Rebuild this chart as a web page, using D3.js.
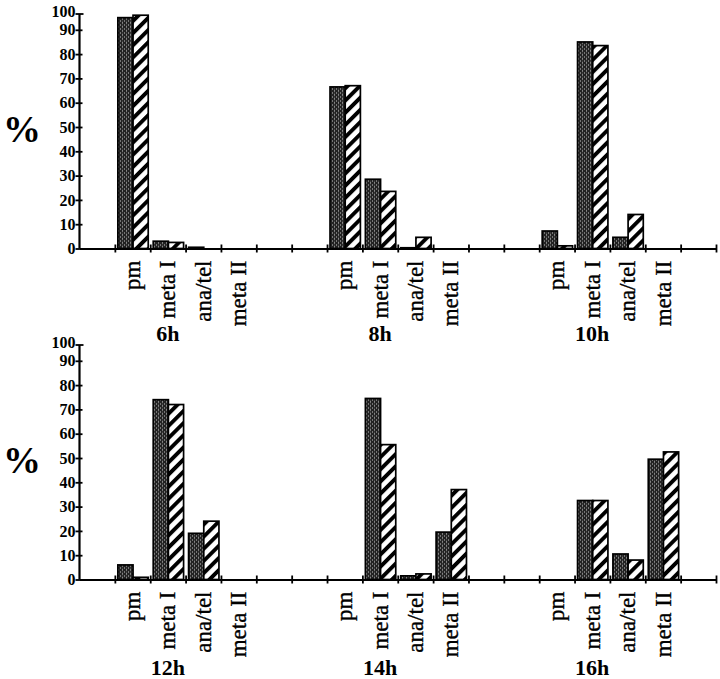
<!DOCTYPE html>
<html>
<head>
<meta charset="utf-8">
<script src="https://cdn.jsdelivr.net/npm/d3@7"></script>
<style>
  body { margin: 0; background: #fff; }
  svg { display: block; }
  text { font-family: "Liberation Serif", "Times New Roman", serif; fill: #000; }
</style>
</head>
<body>
<svg id="chart" width="720" height="679"></svg>
<script>
// time points (one group of bars each) and meiotic stages
const timepoints = ['6h', '8h', '10h', '12h', '14h', '16h'];
const stages = ['pm', 'meta I', 'ana/tel', 'meta II'];

// stippled bars, per time point, in stage order
const stippledValues = [
  [95, 3, 0.5, 0],
  [66.5, 28.5, 0.3, 0],
  [7.2, 85, 4.6, 0],
  [6, 74, 19, 0],
  [0, 74.5, 1.5, 19.5],
  [0, 32.5, 10.5, 49.5]
];
// hatched bars, same order
const hatchedValues = [
  [96, 2.5, 0, 0],
  [67, 23.5, 4.6, 0],
  [1.1, 83.5, 14, 0],
  [0.9, 72, 24, 0],
  [0, 55.5, 2.3, 37],
  [0, 32.5, 8, 52.5]
];

const yTicks = [0, 10, 20, 30, 40, 50, 60, 70, 80, 90];
const yTopLabel = '100';

const svg = d3.select('#chart');

// patterns for the two series
const defs = svg.append('defs');
const stipple = defs.append('pattern')
  .attr('id', 'stipple')
  .attr('patternUnits', 'userSpaceOnUse')
  .attr('width', 4).attr('height', 4);
stipple.append('rect').attr('width', 4).attr('height', 4).attr('fill', '#222');
[[0, 0], [2, 2], [2, 0.5]].forEach(([px, py], i) => {
  stipple.append('rect')
    .attr('x', px).attr('y', py)
    .attr('width', 1).attr('height', 1)
    .attr('fill', i < 2 ? '#c8c8c8' : '#666');
});

const hatch = defs.append('pattern')
  .attr('id', 'hatch')
  .attr('patternUnits', 'userSpaceOnUse')
  .attr('width', 8.6).attr('height', 8.6)
  .attr('patternTransform', 'rotate(45)');
hatch.append('rect').attr('width', 8.6).attr('height', 8.6).attr('fill', '#fff');
hatch.append('rect').attr('width', 3.9).attr('height', 8.6).attr('fill', '#000');

// vertical scale (shared by both rows, relative to each row's baseline)
const y = d3.scaleLinear().domain([0, 100]).range([0, -243]);
const axisTop = y(96.5);

const rowBaselines = [248.5, 579.5];
const rowLabelOffsets = [92, 95.5];
const groupsPerRow = 3;

function drawRow(rowIdx) {
  const rowTimes = timepoints.slice(rowIdx * groupsPerRow, rowIdx * groupsPerRow + groupsPerRow);
  const slotKeys = [];
  rowTimes.forEach(t => {
    ['', ...stages, ''].forEach((s, i) => slotKeys.push(`${t}|${i}`));
  });

  const x = d3.scaleBand().domain(slotKeys).range([79.5, 716]).padding(0);
  const xTick = d3.scaleLinear().domain([0, slotKeys.length]).range([79.5, 716]);
  const inner = d3.scaleBand().domain(['stippled', 'hatched'])
    .range([3, x.bandwidth() - 2]).padding(0);

  const g = svg.append('g').attr('transform', `translate(0, ${rowBaselines[rowIdx]})`);

  // bars
  rowTimes.forEach((t, gi) => {
    const tIdx = rowIdx * groupsPerRow + gi;
    stages.forEach((s, si) => {
      const key = `${t}|${si + 1}`;
      const pair = [
        { series: 'stippled', value: stippledValues[tIdx][si] },
        { series: 'hatched', value: hatchedValues[tIdx][si] }
      ].filter(d => d.value > 0);
      g.selectAll(null)
        .data(pair)
        .join('rect')
        .attr('x', d => x(key) + inner(d.series))
        .attr('width', inner.bandwidth())
        .attr('y', d => y(d.value))
        .attr('height', d => -y(d.value))
        .attr('fill', d => d.series === 'stippled' ? 'url(#stipple)' : 'url(#hatch)')
        .attr('stroke', '#000')
        .attr('stroke-width', 1.7);

      // stage label, rotated
      g.append('text')
        .attr('transform', `translate(${x(key) + x.bandwidth() / 2}, 12) rotate(-90)`)
        .attr('text-anchor', 'end')
        .attr('dy', '0.33em')
        .attr('stroke', '#000')
        .attr('stroke-width', 0.35)
        .style('font-size', '23px')
        .text(s);
    });

    // time label under the meta I slot
    const labelKey = `${t}|2`;
    g.append('text')
      .attr('x', x(labelKey) + x.bandwidth() / 2)
      .attr('y', rowLabelOffsets[rowIdx])
      .attr('text-anchor', 'middle')
      .style('font-size', '22px')
      .style('font-weight', 'bold')
      .text(t);
  });

  // x axis with ticks crossing the line
  const xAxis = g.append('g')
    .call(d3.axisBottom(xTick).tickValues(d3.range(1, slotKeys.length + 1))
      .tickSize(4).tickSizeOuter(0).tickFormat(''));
  xAxis.select('.domain').attr('stroke-width', 2.2);
  xAxis.selectAll('.tick line').attr('y1', -4).attr('stroke-width', 1.8);

  // y axis
  const yAxis = g.append('g')
    .attr('transform', 'translate(79.5, 0)')
    .call(d3.axisLeft(y).tickValues(yTicks).tickSize(4).tickPadding(0).tickSizeOuter(0));
  yAxis.select('.domain').remove();
  yAxis.selectAll('.tick line').attr('x1', 3).attr('stroke-width', 1.8);
  yAxis.selectAll('.tick text')
    .style('font-size', '16px')
    .style('font-weight', 'bold')
    .style('font-family', '"Liberation Serif", serif');
  yAxis.append('line')
    .attr('y1', 0).attr('y2', axisTop)
    .attr('stroke', '#000').attr('stroke-width', 2.2);
  yAxis.append('line')
    .attr('x1', -4).attr('x2', 4)
    .attr('y1', axisTop).attr('y2', axisTop)
    .attr('stroke', '#000').attr('stroke-width', 1.8);
  yAxis.append('text')
    .attr('x', -4).attr('y', axisTop - 2).attr('dy', '0.32em')
    .attr('text-anchor', 'end')
    .style('font-size', '16px')
    .style('font-weight', 'bold')
    .text(yTopLabel);

  // axis title
  g.append('text')
    .attr('x', 22).attr('y', y(50) + 2)
    .attr('dy', '0.35em')
    .attr('text-anchor', 'middle')
    .style('font-size', '38px')
    .style('font-weight', 'bold')
    .text('%');
}

drawRow(0);
drawRow(1);
</script>
</body>
</html>
